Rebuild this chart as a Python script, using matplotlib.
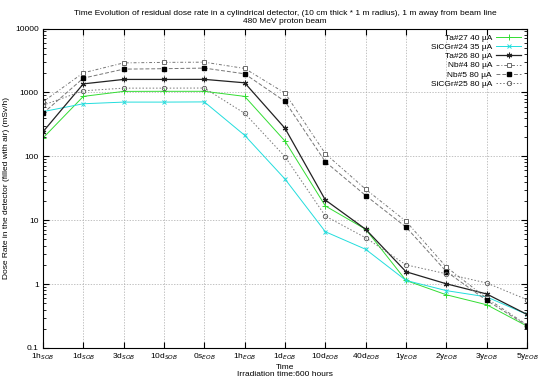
import numpy as np
import matplotlib.pyplot as plt

# time labels (categorical x axis)
times = ['1h$_{SOB}$', '1d$_{SOB}$', '3d$_{SOB}$', '10d$_{SOB}$', '0s$_{EOB}$', '1h$_{EOB}$',
         '1d$_{EOB}$', '10d$_{EOB}$', '40d$_{EOB}$', '1y$_{EOB}$', '2y$_{EOB}$', '3y$_{EOB}$', '5y$_{EOB}$']

# dose rates in mSv/h
ta27 = [193, 866, 1037, 1040, 1040, 866, 173, 16.7, 7.2, 1.14, 0.68, 0.475, 0.22]
sicgr24 = [500, 664, 705, 705, 710, 213, 44, 6.6, 3.5, 1.14, 0.79, 0.63, 0.335]
ta26 = [242, 1360, 1596, 1596, 1600, 1413, 274, 20.7, 7.2, 1.56, 1.01, 0.70, 0.335]
nb4 = [713, 2025, 2895, 2950, 2972, 2371, 975, 110, 30.5, 9.6, 1.85, 0.60, 0.23]
nb5 = [470, 1672, 2313, 2350, 2400, 1954, 723, 82, 24.3, 7.8, 1.57, 0.555, 0.224]
sicgr25 = [631, 1059, 1166, 1166, 1170, 470, 98.6, 11.6, 5.3, 2.0, 1.45, 1.04, 0.57]

labels = ['Ta#27 40 µA', 'SiCGr#24 35 µA', 'Ta#26 80 µA', 'Nb#4 80 µA', 'Nb#5 80 µA', 'SiCGr#25 80 µA']

plt.rcParams['font.family'] = ['Liberation Sans', 'DejaVu Sans']
plt.rcParams['font.size'] = 6

fig = plt.figure(figsize=(5.4, 3.78), dpi=100)
ax = fig.add_axes([0.0796, 0.0794, 0.8964, 0.8452])

x = np.arange(len(times))
ax.plot(x, ta27, color='#33dd33', lw=0.7, marker='+', ms=4, mew=0.7, label=labels[0])
ax.plot(x, sicgr24, color='#22dddd', lw=0.7, marker='x', ms=3.5, mew=0.7, label=labels[1])
ax.plot(x, ta26, color='#222222', lw=0.9, marker=(6, 2, 0), ms=4, mew=0.8, label=labels[2])
ax.plot(x, nb4, color='#777777', lw=0.7, ls=(0, (3, 2, 1, 2)), marker='s', ms=3.5,
        mfc='white', mec='#555555', mew=0.6, label=labels[3])
ax.plot(x, nb5, color='#777777', lw=0.7, ls=(0, (4, 2)), marker='s', ms=3.5,
        mfc='black', mec='black', label=labels[4])
ax.plot(x, sicgr25, color='#777777', lw=0.7, ls=(0, (1.5, 2)), marker='o', ms=3.2,
        mfc='none', mec='#555555', mew=0.6, label=labels[5])

ax.set_yscale('log')
ax.set_ylim(0.1, 10000)
ax.set_xlim(0, len(times) - 1)
ax.set_xticks(x)
ax.set_xticklabels(times)
ax.set_yticks([0.1, 1, 10, 100, 1000, 10000])
ax.set_yticklabels(['0.1', '1', '10', '100', '1000', '10000'])
ax.tick_params(which='both', direction='in', top=True, right=True, labelsize=6)
ax.tick_params(axis='x', pad=2.5)
ax.tick_params(axis='y', pad=3)
ax.tick_params(which='major', length=4)
ax.tick_params(which='minor', length=2)
ax.grid(True, which='major', color='#aaaaaa', ls=(0, (2, 2)), lw=0.5)

ax.set_title('Time Evolution of residual dose rate in a cylindrical detector, (10 cm thick * 1 m radius), 1 m away from beam line\n480 MeV proton beam',
             fontsize=6, pad=4)
ax.set_ylabel('Dose Rate in the detector (filled with air) (mSv/h)', fontsize=6)
ax.yaxis.set_label_coords(-0.068, 0.5)
ax.set_xlabel('Time\nIrradiation time:600 hours', fontsize=6, linespacing=1.0)
ax.xaxis.set_label_coords(0.5, -0.05)

ax.legend(loc='upper right', frameon=False, markerfirst=False, fontsize=6,
          handlelength=3, labelspacing=0.15, borderaxespad=0.3, handletextpad=0.5)

fig.savefig('out.png', dpi=100)
